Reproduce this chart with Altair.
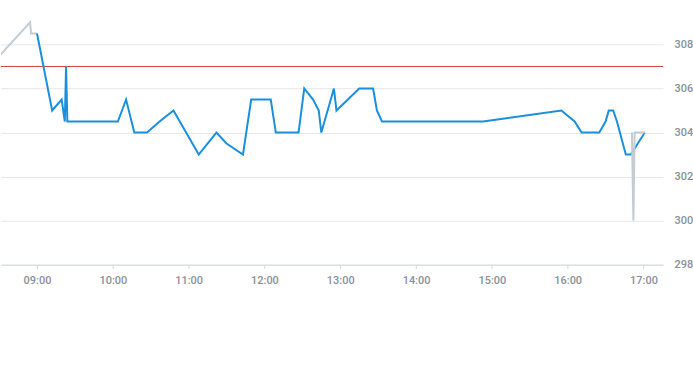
import altair as alt
import pandas as pd

DAY = "2024-01-15"

# main (blue) series
blue_times = ["09:00", "09:12", "09:19:30", "09:22", "09:23", "09:24", "10:04", "10:10:30",
              "10:17", "10:27", "10:37", "10:48", "11:08", "11:22", "11:30", "11:43",
              "11:49:30", "12:05", "12:09", "12:27", "12:31:30", "12:38:30", "12:43",
              "12:45", "12:55", "12:57", "13:15", "13:26", "13:29", "13:33", "14:53",
              "15:55", "16:05:30", "16:11", "16:25", "16:30", "16:32:30", "16:36",
              "16:39", "16:46", "16:50", "17:01"]
blue_values = [308.5, 305.0, 305.5, 304.5, 307.0, 304.5, 304.5, 305.5,
               304.0, 304.0, 304.5, 305.0, 303.0, 304.0, 303.5, 303.0,
               305.5, 305.5, 304.0, 304.0, 306.0, 305.5, 305.0,
               304.0, 306.0, 305.0, 306.0, 306.0, 305.0, 304.5, 304.5,
               305.0, 304.5, 304.0, 304.0, 304.5, 305.0, 305.0,
               304.5, 303.0, 303.0, 304.0]

# secondary (grey) series: early segment and late spike
grey_start_times = ["08:25", "08:54:30", "08:55:20", "09:00"]
grey_start_values = [307.15, 309.0, 308.5, 308.5]
grey_end_times = ["16:50:50", "16:52", "16:53", "17:01"]
grey_end_values = [304.0, 300.0, 304.0, 304.0]

threshold = 307.0
y_ticks = [298, 300, 302, 304, 306, 308]
x_tick_hours = [9, 10, 11, 12, 13, 14, 15, 16, 17]


def iso(t):
    return f"{DAY}T{t if len(t) > 5 else t + ':00'}"


blue_df = pd.DataFrame({"t": [iso(t) for t in blue_times], "v": blue_values})
grey_start_df = pd.DataFrame({"t": [iso(t) for t in grey_start_times], "v": grey_start_values})
grey_end_df = pd.DataFrame({"t": [iso(t) for t in grey_end_times], "v": grey_end_values})
thr_df = pd.DataFrame({"v": [threshold]})

x_dom = [alt.DateTime(year=2024, month=1, date=15, hours=8, minutes=31, seconds=30),
         alt.DateTime(year=2024, month=1, date=15, hours=17, minutes=15, seconds=30)]
x_vals = [alt.DateTime(year=2024, month=1, date=15, hours=h) for h in x_tick_hours]

x_scale = alt.Scale(domain=x_dom)
y_scale = alt.Scale(domain=[298, 310], nice=False, zero=False)

x_enc = alt.X("t:T", scale=x_scale,
              axis=alt.Axis(format="%H:%M", values=x_vals,
                            title=None, grid=False, domainColor="#d5d9de",
                            tickColor="#d5d9de", tickSize=4, labelPadding=6,
                            labelColor="#87909a", labelFont="Roboto", labelFontSize=11,
                            labelFontWeight=500))
y_enc = alt.Y("v:Q", scale=y_scale,
              axis=alt.Axis(orient="right", values=y_ticks, title=None, domain=False,
                            ticks=False, grid=True, gridColor="#e6e8eb",
                            labelColor="#87909a", labelFont="Roboto", labelFontSize=11,
                            labelFontWeight=500, labelPadding=11))

grey_start = alt.Chart(grey_start_df).mark_line(color="#c3cbd3", strokeWidth=2, clip=True).encode(
    x=x_enc, y=y_enc)
thr = alt.Chart(thr_df).mark_rule(color="#d9403a", strokeWidth=1).encode(
    y=alt.Y("v:Q", scale=y_scale))
blue = alt.Chart(blue_df).mark_line(color="#1a8fdd", strokeWidth=2, clip=True).encode(
    x=alt.X("t:T", scale=x_scale), y=alt.Y("v:Q", scale=y_scale))
grey_end = alt.Chart(grey_end_df).mark_line(color="#c3cbd3", strokeWidth=2, clip=True).encode(
    x=alt.X("t:T", scale=x_scale), y=alt.Y("v:Q", scale=y_scale))

chart = alt.layer(grey_start, thr, blue, grey_end).properties(
    width=664, height=265,
    padding={"left": 0, "top": 0, "right": 0, "bottom": 0},
).configure_view(stroke=None)

chart.save("out.html", embed_options={"renderer": "svg", "actions": False})
